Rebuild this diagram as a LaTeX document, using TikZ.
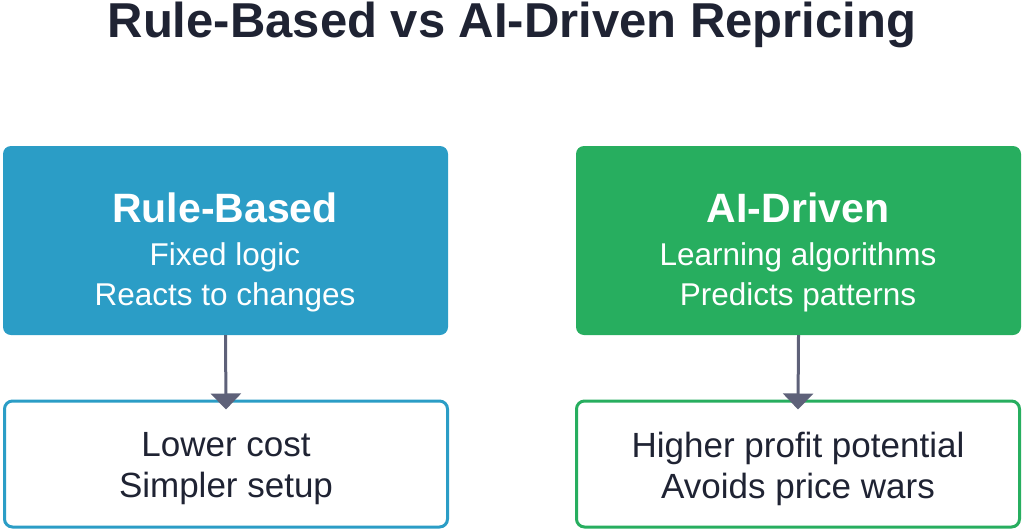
\documentclass[tikz,border=0pt]{standalone}
\usepackage{fontspec}
\setmainfont{Liberation Sans}
\usetikzlibrary{arrows.meta}
\definecolor{rb}{HTML}{2B9DC6}
\definecolor{ai}{HTML}{27AE5F}
\definecolor{ar}{HTML}{5E6179}
\definecolor{tx}{HTML}{1F2333}
\begin{document}
\begin{tikzpicture}[x=1pt,y=-1pt,
  topbox/.style={rounded corners=8pt, minimum width=445pt, minimum height=189pt, inner sep=0pt},
  botbox/.style={rounded corners=8pt, fill=white, line width=3pt, minimum width=443pt, minimum height=126pt, inner sep=0pt},
  conn/.style={ar, line width=3pt, -{Triangle[length=16pt,width=30pt]}}]
\useasboundingbox (0,0) rectangle (1024,530);
\node[text=tx, font=\bfseries\fontsize{49}{56}\selectfont] (title) at (512,25) {Rule-Based vs AI-Driven Repricing};
\node[topbox, fill=rb] (rbox) at (225.5,240.5) {};
\node[topbox, fill=ai] (abox) at (798.5,240.5) {};
\node[botbox, draw=rb] (rbot) at (226,464) {};
\node[botbox, draw=ai] (abot) at (798,464) {};
\node[text=white, font=\bfseries\fontsize{41}{46}\selectfont] at (225,208) {Rule-Based};
\node[text=white, font=\fontsize{31.5}{40}\selectfont, align=center] at (225,277) {Fixed logic\\Reacts to changes};
\node[text=white, font=\bfseries\fontsize{41}{46}\selectfont] at (798,208) {AI-Driven};
\node[text=white, font=\fontsize{31.5}{40}\selectfont, align=center] at (798,277) {Learning algorithms\\Predicts patterns};
\node[text=tx, font=\fontsize{35}{41}\selectfont, align=center] at (226,469) {Lower cost\\Simpler setup};
\node[text=tx, font=\fontsize{35}{41}\selectfont, align=center] at (798,469) {Higher profit potential\\Avoids price wars};
\draw[conn] (rbox.south) -- ([yshift=-10pt]rbot.north);
\draw[conn] (abox.south) -- ([yshift=-10pt]abot.north);
\end{tikzpicture}
\end{document}
